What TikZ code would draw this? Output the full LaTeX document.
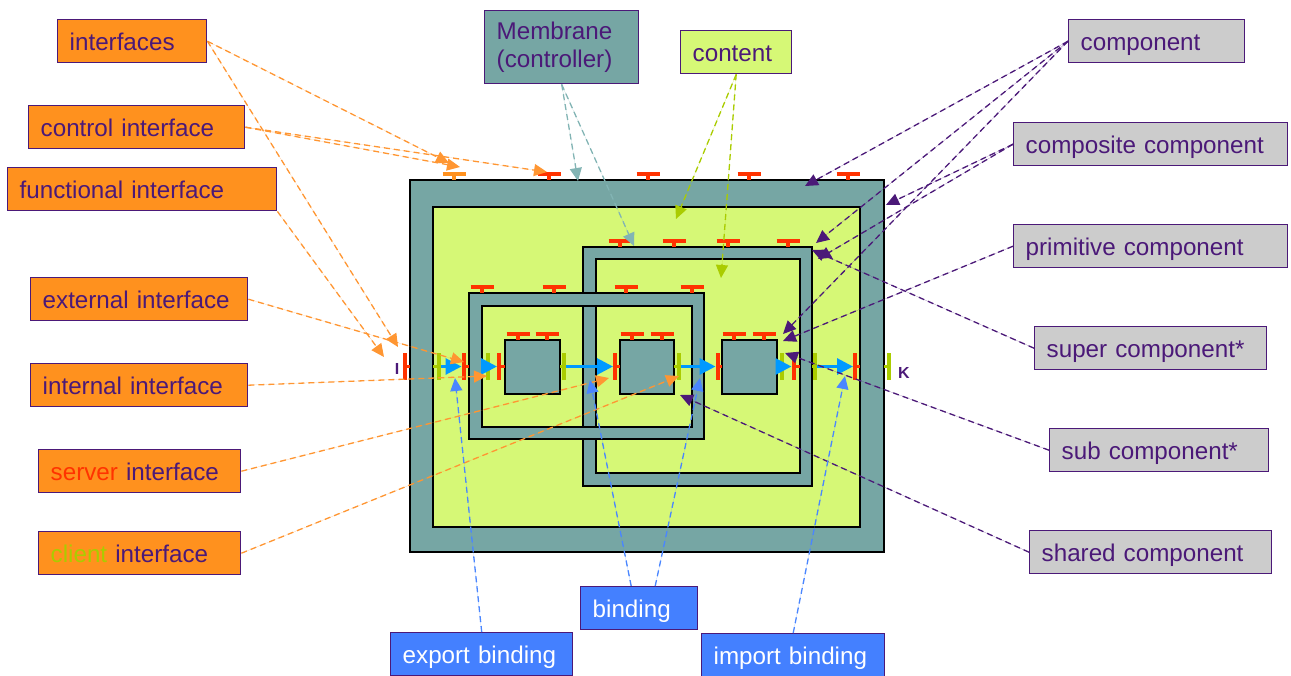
\documentclass[tikz,border=0pt]{standalone}
\usepackage{fontspec}
\setmainfont{Liberation Sans}
\usetikzlibrary{arrows.meta}
\definecolor{ink}{RGB}{75,25,120}
\definecolor{membrane}{RGB}{118,166,164}
\definecolor{contentgreen}{RGB}{214,248,118}
\definecolor{ifred}{RGB}{255,51,0}
\definecolor{ifgreen}{RGB}{170,204,0}
\definecolor{ifblue}{RGB}{0,153,255}
\definecolor{lblorange}{RGB}{255,145,30}
\definecolor{lblgrey}{RGB}{204,204,204}
\definecolor{lblblue}{RGB}{68,128,255}
\definecolor{calorange}{RGB}{255,150,50}
\definecolor{calteal}{RGB}{130,180,180}
\definecolor{calblue}{RGB}{74,134,255}

\begin{document}
\begin{tikzpicture}[
    x=0.5pt, y=-0.5pt,
    >={Triangle[length=6.5pt,width=6pt]},
    every node/.style={font=\fontsize{12.1}{14}\selectfont, text=ink},
    lbl/.style={draw=ink, line width=0.7pt, anchor=north west, inner xsep=6pt, inner ysep=0pt, minimum height=21.5pt, align=left, text width=#1, text height=10.5pt, text depth=1pt},
    iflbl/.style={lbl=#1, fill=lblorange},
    cplbl/.style={lbl=#1, fill=lblgrey},
    bdlbl/.style={lbl=#1, fill=lblblue, text=white},
    membranebox/.style={fill=membrane, draw=black, line width=1pt, even odd rule},
    contentbox/.style={fill=contentgreen, draw=black, line width=1pt},
    ctlT/.style={draw=ifred, line width=1.7pt},
    srv/.style={draw=ifred, line width=2pt},
    clt/.style={draw=ifgreen, line width=2pt},
    stub/.style={line width=1.4pt},
    bind/.style={-{Triangle[length=8pt,width=8pt]}, draw=ifblue, line width=1.5pt, shorten <=1pt, shorten >=1pt},
    call/.style={->, line width=0.65pt, dash pattern=on 3pt off 2pt},
    ocall/.style={call, draw=calorange, fill=calorange},
    tcall/.style={call, draw=calteal, fill=calteal},
    gcall/.style={call, draw=ifgreen, fill=ifgreen},
    pcall/.style={call, draw=ink, fill=ink},
    bcall/.style={call, draw=calblue, fill=calblue}
]
\useasboundingbox (0,0) rectangle (1291,675);

\filldraw[membranebox] (410,180) rectangle (884,552);
\filldraw[contentbox] (433,207) rectangle (860,527);
\filldraw[membranebox] (583,247) rectangle (812,486) (596,259) rectangle (800,473);
\filldraw[membranebox] (469,293) rectangle (704,439) (482,306) rectangle (692,427);
\foreach \x in {505,619.5,722}
    \filldraw[membranebox] (\x,340) rectangle +(54.5,53.5);

\draw[ctlT, draw=lblorange] (442.5,174) -- (465.5,174) (454,174) -- (454,180);
\foreach \x/\y in {549/174,648/174,749/174,848/174,620/241,674/241,728/241,788/241,
                   482/287,554/287,626/287,692/287,518/334,547/334,632/334,662/334,734/334,764/334}
    \draw[ctlT] (\x-11.5,\y) -- (\x+11.5,\y) (\x,\y) -- (\x,\y+6);

\foreach \x/\e [count=\i] in {404.5/410,463.5/469,499/505,615/619.5,717.5/722,793.5/800,855/860} {
    \draw[srv] (\x,353) -- (\x,380);
    \draw[stub, ifred] (\x,366.5) -- (\e,366.5);
    \coordinate (s\i) at (\x,366.5);
}
\foreach \x/\e [count=\i] in {438.5/433,487.5/482,563.5/560,678.5/674,781.5/776,815/812,888.5/884} {
    \draw[clt] (\x,353) -- (\x,380);
    \draw[stub, ifgreen] (\x,366.5) -- (\e,366.5);
    \coordinate (c\i) at (\x,366.5);
}
\foreach \a/\b in {1/2,2/3,3/4,4/5,5/6,6/7}
    \draw[bind] (c\a) -- (s\b);

\node[font=\bfseries\fontsize{8}{9}\selectfont] (ifI) at (397,369) {I};
\node[font=\bfseries\fontsize{8}{9}\selectfont] (ifK) at (904,373) {K};

\node[iflbl=62.5pt] (interfaces) at (57,19) {interfaces};
\node[iflbl=96pt] (ctlif) at (28,105) {control interface};
\node[iflbl=122.5pt] (funcif) at (7,167) {functional interface};
\node[iflbl=96.5pt] (extif) at (30,277) {external interface};
\node[iflbl=96.5pt] (intif) at (30,363) {internal interface};
\node[iflbl=89pt] (srvif) at (38,449) {\textcolor{ifred}{server} interface};
\node[iflbl=89pt] (cltif) at (38,531) {\textcolor{ifgreen}{client} interface};
\node[lbl=65pt, fill=membrane, minimum height=36.5pt, text height={}, text depth={}] (membr) at (484,10) {Membrane\\(controller)};
\node[lbl=43.5pt, fill=contentgreen] (content) at (680,30) {content};
\node[cplbl=76pt] (comp) at (1068,19) {component};
\node[cplbl=125pt] (compos) at (1013,122) {composite component};
\node[cplbl=125pt] (prim) at (1013,224) {primitive component};
\node[cplbl=104pt] (super) at (1034,326) {super component*};
\node[cplbl=97.5pt] (sub) at (1049,428) {sub component*};
\node[cplbl=109pt] (shared) at (1029,530) {shared component};
\node[bdlbl=46.5pt] (binding) at (580,586) {binding};
\node[bdlbl=79pt] (export) at (390,632) {export binding};
\node[bdlbl=79.5pt] (import) at (701,633) {import binding};

\coordinate (tOuterT) at (449,163);
\coordinate (tOuterT2) at (460,167);
\coordinate (tOuterT3) at (547,172);
\coordinate (tExtI) at (398,347);
\coordinate (tExtI2) at (384,357);
\coordinate (tExtA) at (464,362);
\coordinate (tIntA) at (487,376);
\coordinate (tSrvP2) at (609,378);
\coordinate (tCltP2) at (679,376);
\coordinate (tMemOut) at (578,181);
\coordinate (tMemB) at (634,246);
\coordinate (tConOut) at (676,219);
\coordinate (tConB) at (721,278);
\coordinate (tCompOut) at (805,186);
\coordinate (tCompB) at (816,243);
\coordinate (tCompP3) at (783,334);
\coordinate (tComposOut) at (886,205);
\coordinate (tComposB) at (818,259);
\coordinate (tPrimP3) at (783,341);
\coordinate (tSuperB) at (812,250);
\coordinate (tSubP3) at (785,353);
\coordinate (tSharedP2) at (680,395);
\coordinate (tExport) at (455,378);
\coordinate (tBindL) at (590,380);
\coordinate (tBindR) at (700,378);
\coordinate (tImport) at (845,376);

\draw[ocall] (interfaces.east) -- (tOuterT);
\draw[ocall] (interfaces.east) -- (tExtI);
\draw[ocall] (ctlif.east) -- (tOuterT2);
\draw[ocall] (ctlif.east) -- (tOuterT3);
\draw[ocall] (funcif.south east) -- (tExtI2);
\draw[ocall] (extif.east) -- (tExtA);
\draw[ocall] (intif.east) -- (tIntA);
\draw[ocall] (srvif.east) -- (tSrvP2);
\draw[ocall] (cltif.east) -- (tCltP2);
\draw[tcall] (membr.south) -- (tMemOut);
\draw[tcall] (membr.south) -- (tMemB);
\draw[gcall] (content.south) -- (tConOut);
\draw[gcall] (content.south) -- (tConB);
\draw[pcall] (comp.west) -- (tCompOut);
\draw[pcall] (comp.west) -- (tCompB);
\draw[pcall] (comp.west) -- (tCompP3);
\draw[pcall] (compos.west) -- (tComposOut);
\draw[pcall] (compos.west) -- (tComposB);
\draw[pcall] (prim.west) -- (tPrimP3);
\draw[pcall] (super.west) -- (tSuperB);
\draw[pcall] (sub.west) -- (tSubP3);
\draw[pcall] (shared.west) -- (tSharedP2);
\draw[bcall] (export.north) -- (tExport);
\draw[bcall] ([xshift=-4pt]binding.north) -- (tBindL);
\draw[bcall] ([xshift=8pt]binding.north) -- (tBindR);
\draw[bcall] (import.north) -- (tImport);
\end{tikzpicture}
\end{document}
